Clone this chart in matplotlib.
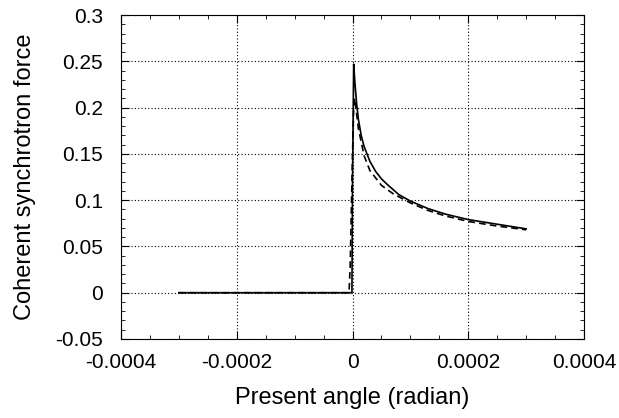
import matplotlib
matplotlib.use("Agg")
import matplotlib.pyplot as plt
from matplotlib.ticker import MultipleLocator

# solid curve
x_solid = [-0.0003, -0.000001, 0.0, 0.000002, 0.000004, 0.000007, 0.00001, 0.000015, 0.00002,
           0.00003, 0.00004, 0.00005, 0.00006, 0.00008, 0.0001, 0.00013, 0.00016, 0.0002,
           0.00025, 0.0003]
y_solid = [0.0, 0.0, 0.12, 0.247, 0.228, 0.205, 0.188, 0.17, 0.158,
           0.142, 0.131, 0.123, 0.117, 0.106, 0.099, 0.091, 0.085, 0.079,
           0.074, 0.069]

# dashed curve
x_dash = [-0.0003, -0.000006, -0.000004, -0.000002, 0.0, 0.000002, 0.000004, 0.00001,
          0.00002, 0.00003, 0.00005, 0.00007, 0.0001, 0.00013, 0.00016, 0.0002, 0.00025, 0.0003]
y_dash = [0.0, 0.0, 0.03, 0.09, 0.15, 0.2, 0.21, 0.178,
          0.148, 0.132, 0.116, 0.107, 0.097, 0.089, 0.083, 0.077, 0.072, 0.068]

plt.rcParams['font.family'] = ['Liberation Sans', 'DejaVu Sans']

fig = plt.figure(figsize=(6.19, 4.18), dpi=100)
ax = fig.add_axes([0.1955, 0.189, 0.748, 0.775])

ax.plot(x_solid, y_solid, color='black', lw=1.2)
ax.plot(x_dash, y_dash, color='black', lw=1.2, ls=(0, (4, 2.5)))

ax.set_xlim(-0.0004, 0.0004)
ax.set_ylim(-0.05, 0.3)
ax.xaxis.set_minor_locator(MultipleLocator(0.00005))
ax.yaxis.set_minor_locator(MultipleLocator(0.01))

ax.set_xticks([-0.0004, -0.0002, 0, 0.0002, 0.0004])
ax.set_xticklabels(['-0.0004', '-0.0002', '0', '0.0002', '0.0004'])
ax.set_yticks([-0.05, 0, 0.05, 0.1, 0.15, 0.2, 0.25, 0.3])
ax.set_yticklabels(['-0.05', '0', '0.05', '0.1', '0.15', '0.2', '0.25', '0.3'])

ax.tick_params(which='both', direction='in', top=True, right=True, labelsize=15)
ax.tick_params(axis='y', pad=13)
ax.tick_params(axis='x', pad=10)
ax.tick_params(which='major', length=6)
ax.tick_params(which='minor', length=3)
ax.grid(True, which='major', color='black', ls=(0, (1, 2)), lw=0.8)

ax.set_xlabel('Present angle (radian)', fontsize=17, labelpad=11)
ax.set_ylabel('Coherent synchrotron force', fontsize=17, labelpad=14)

fig.savefig('out.png', dpi=100)
